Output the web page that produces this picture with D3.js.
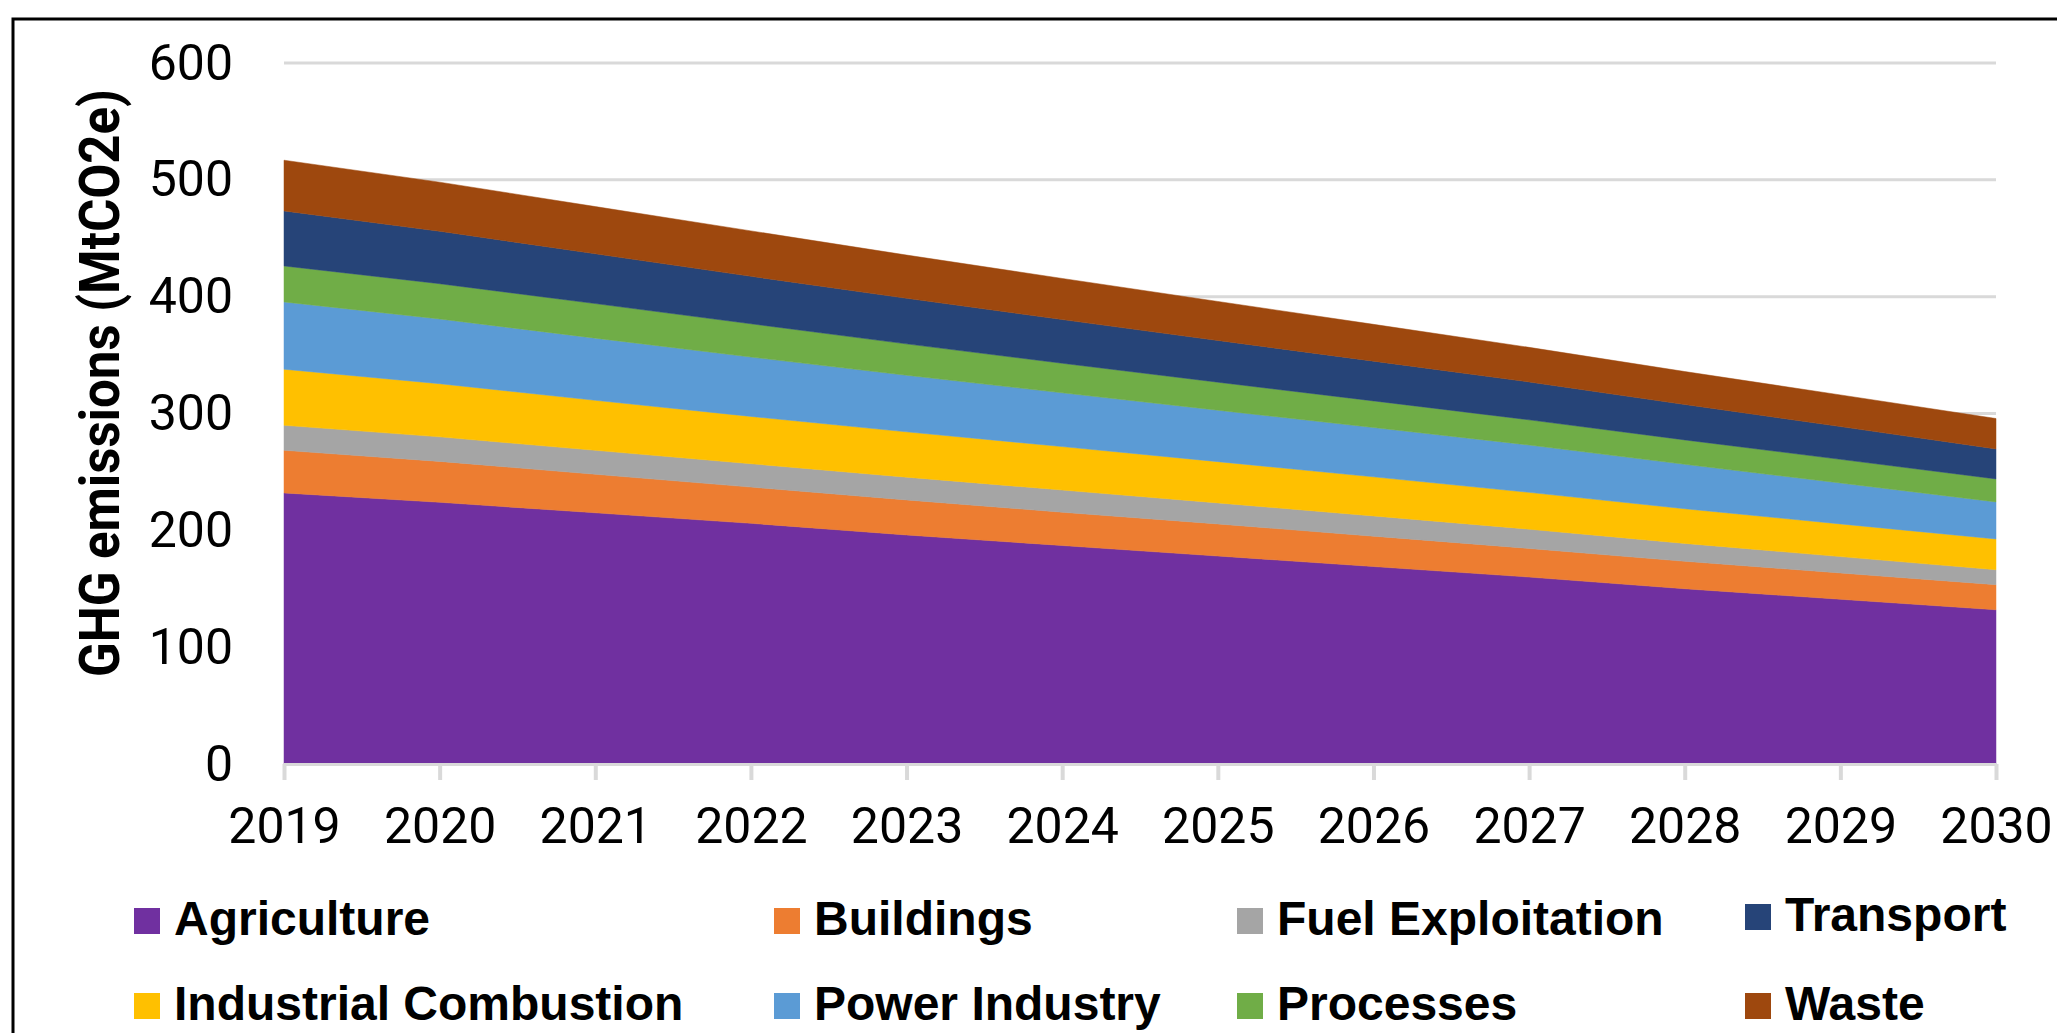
<!DOCTYPE html>
<html>
<head>
<meta charset="utf-8">
<script src="https://cdn.jsdelivr.net/npm/d3@7"></script>
<style>
  html, body { margin: 0; padding: 0; background: #fff; }
  svg { display: block; }
</style>
</head>
<body>
<svg id="chart" width="2057" height="1033"></svg>
<script>
// ---- data ----
const years = [2019, 2020, 2021, 2022, 2023, 2024, 2025, 2026, 2027, 2028, 2029, 2030];
const seriesNames = ["Agriculture", "Buildings", "Fuel Exploitation", "Industrial Combustion",
                     "Power Industry", "Processes", "Transport", "Waste"];
const agriculture = [232, 224, 215, 206, 196, 187, 178, 169, 160, 150, 141, 132];
const buildings   = [36.5, 35, 33, 31, 30, 28.5, 27.5, 26, 24.5, 23.5, 22.5, 21.5];
const fuelExploitation = [21.4, 21, 20.5, 20, 19.5, 19, 18, 17.3, 16.5, 15.3, 14, 12.8];
const industrialCombustion = [48, 45.5, 42.8, 40.5, 38.8, 37.2, 35.3, 33.5, 31.5, 29.7, 28, 26.3];
const powerIndustry = [57.6, 55.4, 53.2, 50.8, 48.4, 46, 44, 42.2, 40.5, 38, 35, 31.7];
const processes = [30.8, 30.2, 29.6, 28.5, 26.9, 25.3, 24, 22.8, 21.6, 20.9, 20.3, 19.7];
const transport = [47.1, 44.9, 42.6, 40.6, 39, 37.4, 35.7, 34, 32.4, 30.3, 28, 25.7];
const waste = [43.4, 42, 40.4, 38.9, 37, 35.2, 33.4, 31.5, 29.6, 28.2, 27.1, 26];
const yTicks = [0, 100, 200, 300, 400, 500, 600];
const yTitle = "GHG emissions (MtCO2e)";
const colors = ["#7030A0", "#ED7D31", "#A5A5A5", "#FFC000", "#5B9BD5", "#70AD47", "#264478", "#9E480E"];
// legend order as in the reference (row-major)
const legendOrder = ["Agriculture", "Buildings", "Fuel Exploitation", "Transport",
                     "Industrial Combustion", "Power Industry", "Processes", "Waste"];

const seriesValues = [agriculture, buildings, fuelExploitation, industrialCombustion,
                      powerIndustry, processes, transport, waste];
const table = years.map((yr, i) => {
  const row = { year: yr };
  seriesNames.forEach((n, k) => row[n] = seriesValues[k][i]);
  return row;
});

// ---- layout ----
const svg = d3.select("#chart");
const plot = { left: 284, right: 1996, top: 63, bottom: 764 };
const x = d3.scaleLinear().domain([years[0], years[years.length - 1]]).range([plot.left, plot.right]);
const y = d3.scaleLinear().domain([0, 600]).range([plot.bottom, plot.top]);
const color = d3.scaleOrdinal().domain(seriesNames).range(colors);

// outer frame (only top/left edges are visible in the reference)
svg.append("rect")
  .attr("x", 13).attr("y", 19).attr("width", 2200).attr("height", 1200)
  .attr("fill", "none").attr("stroke", "#000").attr("stroke-width", 3);

// gridlines
svg.append("g").selectAll("line").data(yTicks.filter(d => d > 0)).join("line")
  .attr("x1", plot.left).attr("x2", plot.right)
  .attr("y1", d => y(d)).attr("y2", d => y(d))
  .attr("stroke", "#d9d9d9").attr("stroke-width", 3);

// stacked areas
const stack = d3.stack().keys(seriesNames);
const layers = stack(table);
const area = d3.area()
  .x(d => x(d.data.year))
  .y0(d => y(d[0]))
  .y1(d => y(d[1]));
svg.append("g").selectAll("path").data(layers).join("path")
  .attr("d", area)
  .attr("fill", d => color(d.key))
  .attr("stroke", d => color(d.key))
  .attr("stroke-width", 0.5);

// x axis
const xAxis = d3.axisBottom(x).tickValues(years).tickFormat(d3.format("d"))
  .tickSize(16).tickPadding(27);
const gx = svg.append("g").attr("transform", `translate(0,${plot.bottom})`).call(xAxis);
gx.select(".domain").attr("stroke", "#d9d9d9").attr("stroke-width", 3)
  .attr("d", `M${plot.left},0.5H${plot.right}`);
gx.selectAll(".tick line").attr("stroke", "#d9d9d9").attr("stroke-width", 4);
gx.selectAll(".tick text")
  .attr("font-family", "Roboto, sans-serif").attr("font-size", 50).attr("fill", "#000");

// y axis
const yAxis = d3.axisLeft(y).tickValues(yTicks).tickSize(0).tickPadding(51);
const gy = svg.append("g").attr("transform", `translate(${plot.left},0)`).call(yAxis);
gy.select(".domain").remove();
gy.selectAll(".tick text")
  .attr("font-family", "Roboto, sans-serif").attr("font-size", 50).attr("fill", "#000");

// y title
svg.append("text")
  .attr("transform", `translate(119,383) rotate(-90)`)
  .attr("text-anchor", "middle")
  .attr("font-family", "Roboto, sans-serif").attr("font-weight", 700)
  .attr("font-size", 56).attr("fill", "#000")
  .attr("textLength", 588).attr("lengthAdjust", "spacingAndGlyphs")
  .text(yTitle);

// legend
const colX = [134, 774, 1237, 1745];
const rowY = [935, 1020];
const legend = svg.append("g").selectAll("g").data(legendOrder).join("g")
  .attr("transform", (d, i) => `translate(${colX[i % 4]},${rowY[Math.floor(i / 4)] - (d === "Transport" ? 4 : 0)})`);
legend.append("rect")
  .attr("x", 0).attr("y", -27).attr("width", 26).attr("height", 26)
  .attr("fill", d => color(d));
legend.append("text")
  .attr("x", 40).attr("y", 0)
  .attr("font-family", "'Liberation Sans', Arial, sans-serif").attr("font-weight", 700)
  .attr("font-size", 48).attr("fill", "#000")
  .text(d => d);
</script>
</body>
</html>
